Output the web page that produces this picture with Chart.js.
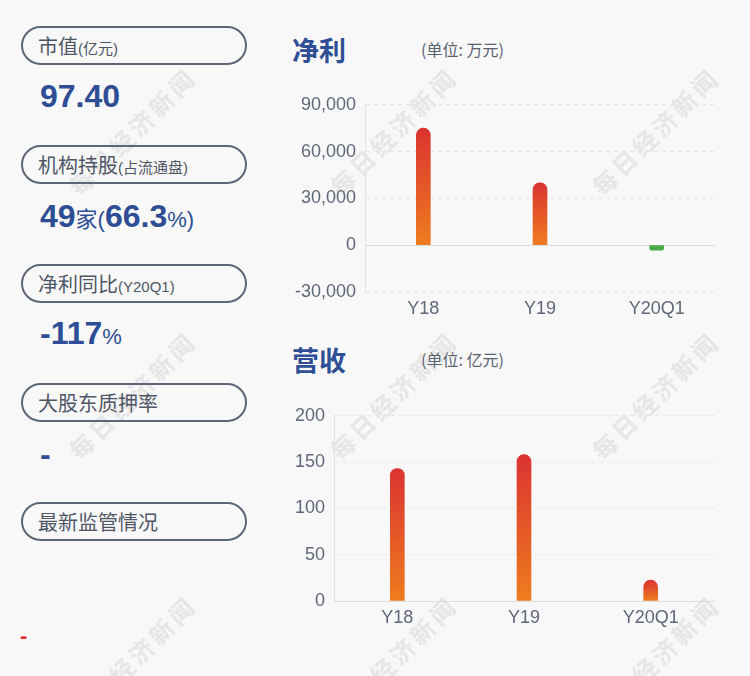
<!DOCTYPE html>
<html>
<head>
<meta charset="utf-8">
<script src="https://cdn.jsdelivr.net/npm/chart.js@4/dist/chart.umd.min.js"></script>
<style>
  html, body { margin: 0; padding: 0; }
  body {
    width: 750px; height: 676px; overflow: hidden; position: relative;
    background: #f8f8f8;
    font-family: "Liberation Sans", Arial, "Noto Sans CJK SC", sans-serif;
  }
  .wm {
    position: absolute; transform: translate(-50%, -50%) rotate(-45deg);
    font-family: "Noto Sans CJK SC", sans-serif; font-weight: bold;
    font-size: 24px; letter-spacing: 4px; color: #e6e6e6; white-space: nowrap;
  }
  .pill {
    position: absolute; left: 21px; width: 222px; height: 35px;
    border: 2px solid #5b6676; border-radius: 20px;
    box-sizing: content-box;
    font-family: "Noto Sans CJK SC", sans-serif; color: #4e5665;
    font-size: 20px; line-height: 35px;
  }
  .pill span.t { position: absolute; left: 15px; top: 0; }
  .pill small { font-size: 15px; font-family: "Liberation Sans", "Noto Sans CJK SC", sans-serif; }
  .val {
    position: absolute; left: 40px; color: #2d4e95; font-weight: bold;
    font-family: "Liberation Sans", Arial, "Noto Sans CJK SC", sans-serif;
    font-size: 32px; line-height: 40px;
  }
  .val .s { font-weight: normal; font-size: 22px; }
  .val .cj { font-weight: normal; font-size: 22px; font-family: "Noto Sans CJK SC", sans-serif; }
  .title {
    position: absolute; left: 292px; font-family: "Noto Sans CJK SC", sans-serif;
    font-weight: bold; font-size: 27px; color: #2e4f96; line-height: 36px;
  }
  .unit {
    position: absolute; left: 421px; font-family: "Noto Sans CJK SC", sans-serif;
    font-size: 16px; color: #5a6270; line-height: 20px;
  }
  canvas { position: absolute; }
</style>
</head>
<body>
<div class="wm" style="left:132px;top:131px">每日经济新闻</div>
<div class="wm" style="left:393px;top:131px">每日经济新闻</div>
<div class="wm" style="left:655px;top:131px">每日经济新闻</div>
<div class="wm" style="left:132px;top:395px">每日经济新闻</div>
<div class="wm" style="left:393px;top:395px">每日经济新闻</div>
<div class="wm" style="left:655px;top:395px">每日经济新闻</div>
<div class="wm" style="left:132px;top:659px">每日经济新闻</div>
<div class="wm" style="left:393px;top:659px">每日经济新闻</div>
<div class="wm" style="left:655px;top:659px">每日经济新闻</div>

<div class="pill" style="top:26px"><span class="t">市值<small>(亿元)</small></span></div>
<div class="val" style="top:76px">97.40</div>

<div class="pill" style="top:145px"><span class="t">机构持股<small>(占流通盘)</small></span></div>
<div class="val" style="top:196px">49<span class="cj">家</span><span class="s">(</span>66.3<span class="s">%)</span></div>

<div class="pill" style="top:264px"><span class="t">净利同比<small>(Y20Q1)</small></span></div>
<div class="val" style="top:313px">-117<span class="s">%</span></div>

<div class="pill" style="top:383px"><span class="t">大股东质押率</span></div>
<div class="val" style="top:434px">-</div>

<div class="pill" style="top:502px"><span class="t">最新监管情况</span></div>
<div class="val" style="top:622px;left:20px;color:#e03131;font-size:22px;line-height:28px">-</div>

<div class="title" style="top:32px">净利</div>
<div class="unit" style="top:39px">(单位: 万元)</div>
<div class="title" style="top:342px">营收</div>
<div class="unit" style="top:349px">(单位: 亿元)</div>

<canvas id="profitChart" style="left:285px;top:85px" width="440" height="240"></canvas>
<canvas id="revenueChart" style="left:264px;top:396px" width="460" height="238"></canvas>

<script>
const categories = ["Y18", "Y19", "Y20Q1"]
const profitValues = [75000, 40000, -3200]
const profitTicks = [-30000, 0, 30000, 60000, 90000]
const revenueValues = [143, 158, 22.5]
const revenueTicks = [0, 50, 100, 150, 200]

const tickColor = "#5f6878"
const tickFont = { family: "'Liberation Sans', Arial, sans-serif", size: 18 }

// gradient from red (top) to orange (base), green for losses
function barColor(context) {
  const chart = context.chart
  const y = chart.scales.y
  const v = context.raw
  if (v < 0) return "#47a947"
  if (!y) return "#e35a28"
  const top = y.getPixelForValue(v)
  const base = y.getPixelForValue(0)
  if (!isFinite(top) || !isFinite(base) || top === base) return "#e35a28"
  const g = chart.ctx.createLinearGradient(0, top, 0, base)
  g.addColorStop(0, "#db3331")
  g.addColorStop(1, "#ee7d1e")
  return g
}

const zeroLine = {
  id: "zeroLine",
  beforeDatasetsDraw(chart) {
    const ctx = chart.ctx
    const py = Math.round(chart.scales.y.getPixelForValue(0)) + 0.5
    ctx.save()
    ctx.strokeStyle = "#dcdcdc"
    ctx.lineWidth = 1
    ctx.beginPath()
    ctx.moveTo(chart.chartArea.left, py)
    ctx.lineTo(chart.chartArea.right, py)
    ctx.stroke()
    ctx.restore()
  }
}

function makeChart(id, values, ticks, yWidth) {
  return new Chart(document.getElementById(id), {
    type: "bar",
    data: {
      labels: categories,
      datasets: [{
        data: values,
        backgroundColor: barColor,
        barThickness: 14,
        borderRadius: 7,
        borderSkipped: "start",
      }],
    },
    options: {
      responsive: false,
      animation: false,
      layout: { padding: { top: 0, right: 10 } },
      plugins: { legend: { display: false }, tooltip: { enabled: false } },
      scales: {
        x: {
          grid: { display: false, drawTicks: false },
          border: { display: false },
          ticks: { color: tickColor, font: tickFont, padding: 6 },
          afterFit: (s) => { s.height = 33 },
        },
        y: {
          min: ticks[0],
          max: ticks[ticks.length - 1],
          afterBuildTicks: (s) => { s.ticks = ticks.map((v) => ({ value: v })) },
          grid: { color: "#e6e6e6", drawTicks: false },
          border: { display: true, color: "#e4e4e4", dash: [4, 4] },
          ticks: {
            color: tickColor, font: tickFont, padding: 9,
            callback: (v) => v.toLocaleString("en-US"),
          },
          afterFit: (s) => { s.width = yWidth },
        },
      },
    },
    plugins: [zeroLine],
  })
}

makeChart("profitChart", profitValues, profitTicks, 80)
makeChart("revenueChart", revenueValues, revenueTicks, 70)
</script>
</body>
</html>
